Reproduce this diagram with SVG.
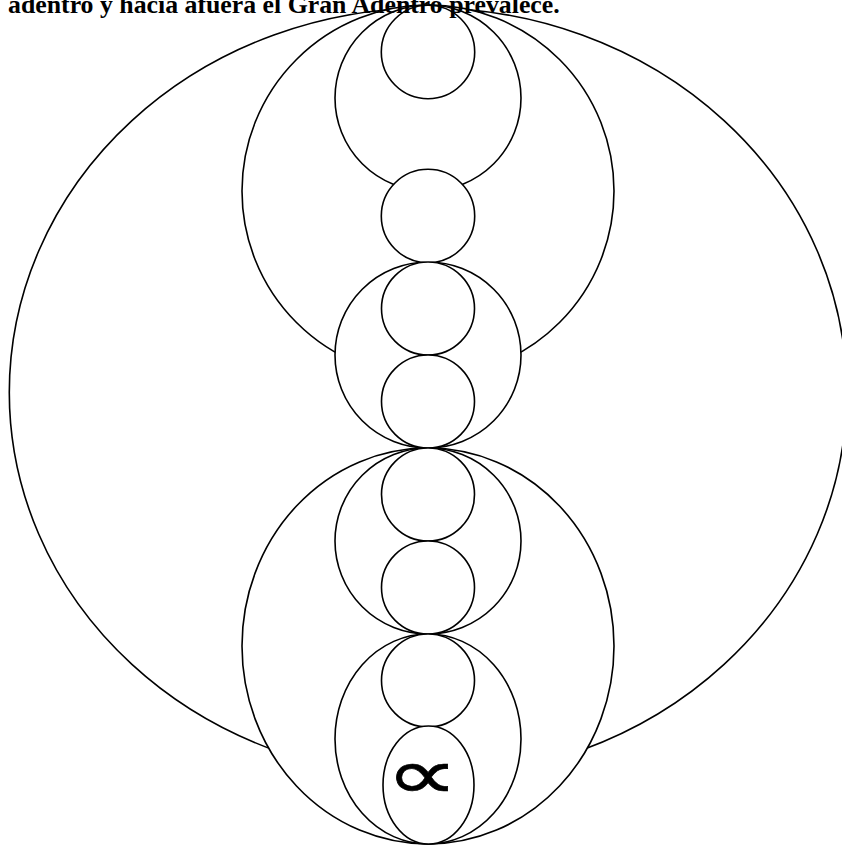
<svg xmlns="http://www.w3.org/2000/svg" width="842" height="848" viewBox="0 0 842 848">
<style>
.c{fill:#fff;stroke:#000;stroke-width:1.6}
.t{font-family:"Liberation Serif",serif;font-weight:bold;font-size:25.8px;fill:#000}
.s{font-family:"DejaVu Sans",sans-serif;font-size:72px;fill:#000;stroke:#000;stroke-width:0.6}
</style>
<rect width="842" height="848" fill="#fff"/>
<g id="outer"><ellipse class="c" cx="428" cy="392.5" rx="418.7" ry="384.5"/></g>
<g id="large-top"><circle class="c" cx="428" cy="191" r="186"/></g>
<g id="large-bottom"><ellipse class="c" cx="428" cy="646" rx="186" ry="198"/></g>
<g id="medium-a"><circle class="c" cx="428" cy="98" r="93"/></g>
<g id="medium-b"><circle class="c" cx="428" cy="355" r="93"/></g>
<g id="medium-c"><circle class="c" cx="428" cy="541" r="93"/></g>
<g id="medium-d"><ellipse class="c" cx="428" cy="739" rx="93" ry="105"/></g>
<g id="small-1"><circle class="c" cx="428" cy="52" r="46.7"/></g>
<g id="small-2"><circle class="c" cx="428" cy="216" r="46.7"/></g>
<g id="small-3"><circle class="c" cx="428" cy="308.5" r="46.5"/></g>
<g id="small-4"><circle class="c" cx="428" cy="401.5" r="46.5"/></g>
<g id="small-5"><circle class="c" cx="428" cy="494.5" r="46.5"/></g>
<g id="small-6"><circle class="c" cx="428" cy="587.5" r="46.5"/></g>
<g id="small-7"><circle class="c" cx="428" cy="680.5" r="46.5"/></g>
<g id="small-8"><ellipse class="c" cx="428.5" cy="785" rx="45.5" ry="59"/>
<text class="s" transform="translate(422,798.5) scale(1.42,1)" x="0" y="0" text-anchor="middle">∝</text></g>
<g id="connectors"></g>
<text class="t" x="8" y="13">adentro y hacia afuera el Gran Adentro prevalece.</text>
</svg>
